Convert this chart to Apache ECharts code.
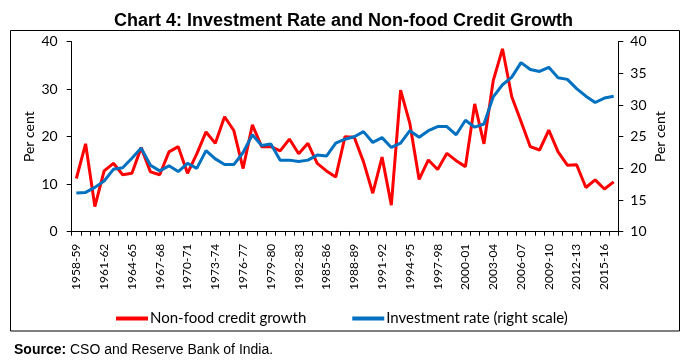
<!DOCTYPE html>
<html><head><meta charset="utf-8">
<script src="https://cdn.jsdelivr.net/npm/echarts@6/dist/echarts.min.js"></script>
<style>html,body{margin:0;padding:0;background:#fff}#c{width:687px;height:361px}</style>
</head><body><div id="c"></div>
<script>
const startYears = [];
for (let y = 1958; y <= 2016; y++) startYears.push(y);
const categories = startYears.map(y => y + '-' + String((y + 1) % 100).padStart(2, '0'));

const creditGrowth = [11.2,18.5,5.3,12.8,14.4,12.0,12.3,17.7,12.6,12.0,
  16.8,17.9,12.3,16.4,21.0,18.6,24.2,21.3,13.3,22.5,
  17.9,17.9,17.0,19.5,16.4,18.6,14.4,12.8,11.5,20.0,
  19.9,14.7,8.1,15.7,5.6,29.8,22.8,11.0,15.1,13.1,
  16.5,14.95,13.7,26.9,18.5,31.8,38.5,28.4,23.2,17.9,
  17.2,21.4,16.8,14.0,14.1,9.3,10.9,9.0,10.5];

const investmentRate = [16.1,16.2,17.0,18.0,19.85,20.1,21.6,23.2,20.5,19.6,
  20.4,19.5,20.8,20.0,22.8,21.5,20.6,20.6,22.5,25.3,
  23.6,23.85,21.3,21.3,21.1,21.3,22.1,21.95,24.0,24.6,
  25.0,25.8,24.1,24.85,23.3,24.0,25.95,24.9,25.95,26.6,
  26.6,25.3,27.6,26.5,27.0,31.3,33.2,34.4,36.7,35.6,
  35.3,35.95,34.3,34.05,32.6,31.4,30.4,31.1,31.4];

const seriesNames = ['Non-food credit growth', 'Investment rate (right scale)'];
const titleText = 'Chart 4: Investment Rate and Non-food Credit Growth';

const font = 'Lato, "Noto Sans", sans-serif';
const chart = echarts.init(document.getElementById('c'), null, {renderer: 'canvas'});
chart.setOption({
  animation: false,
  backgroundColor: '#fff',
  title: [{
    text: titleText, left: 'center', top: 7,
    textStyle: {fontFamily: '"Liberation Sans Narrow", "Liberation Sans", Arial, sans-serif', fontWeight: 'bold', fontSize: 18, color: '#000'}
  }, {
    text: '{b|Source:} CSO and Reserve Bank of India.', left: 9, top: 338,
    textStyle: {fontFamily: '"Liberation Sans", Arial, sans-serif', fontWeight: 'normal', fontSize: 14, color: '#000',
      rich: {b: {fontFamily: '"Liberation Sans", Arial, sans-serif', fontWeight: 'bold', fontSize: 14, color: '#000'}}}
  }],
  graphic: [{
    type: 'rect', shape: {x: 10.5, y: 30.5, width: 669, height: 300.5},
    style: {fill: 'none', stroke: '#000', lineWidth: 1}, silent: true, z: -1
  }],
  legend: {
    left: 111, top: 306, icon: 'rect', itemWidth: 32, itemHeight: 4, itemGap: 46,
    textStyle: {fontFamily: font, fontSize: 15, color: '#000', padding: [0, 0, 0, -3]},
    data: seriesNames
  },
  grid: {left: 71.7, right: 68.7, top: 41.7, bottom: 129.3, containLabel: false},
  xAxis: {
    type: 'category', data: categories, boundaryGap: true,
    axisLine: {lineStyle: {color: '#000', width: 1}},
    axisTick: {show: true, interval: 0, length: 4, lineStyle: {color: '#000'}},
    axisLabel: {interval: 2, rotate: 90, fontFamily: font, fontSize: 12, color: '#000', margin: 12}
  },
  yAxis: [{
    type: 'value', min: 0, max: 40, interval: 10, position: 'left',
    name: 'Per cent', nameLocation: 'middle', nameGap: 35, nameRotate: 90, nameMoveOverlap: false,
    nameTextStyle: {fontFamily: font, fontSize: 14, color: '#000'},
    axisLine: {show: true, lineStyle: {color: '#000'}},
    axisTick: {show: true, length: 5, lineStyle: {color: '#000'}},
    axisLabel: {fontFamily: font, fontSize: 14, color: '#000', margin: 14},
    splitLine: {show: false}
  }, {
    type: 'value', min: 10, max: 40, interval: 5, position: 'right',
    name: 'Per cent', nameLocation: 'middle', nameGap: 35, nameRotate: 90, nameMoveOverlap: false,
    nameTextStyle: {fontFamily: font, fontSize: 14, color: '#000'},
    axisLine: {show: true, lineStyle: {color: '#000'}},
    axisTick: {show: true, length: 5, lineStyle: {color: '#000'}},
    axisLabel: {fontFamily: font, fontSize: 14, color: '#000', margin: 12},
    splitLine: {show: false}
  }],
  series: [{
    name: seriesNames[0], type: 'line', yAxisIndex: 0, data: creditGrowth,
    symbol: 'none', lineStyle: {color: '#FF0000', width: 3}, itemStyle: {color: '#FF0000'}
  }, {
    name: seriesNames[1], type: 'line', yAxisIndex: 1, data: investmentRate,
    symbol: 'none', lineStyle: {color: '#0070C0', width: 3}, itemStyle: {color: '#0070C0'}
  }]
});
</script></body></html>
